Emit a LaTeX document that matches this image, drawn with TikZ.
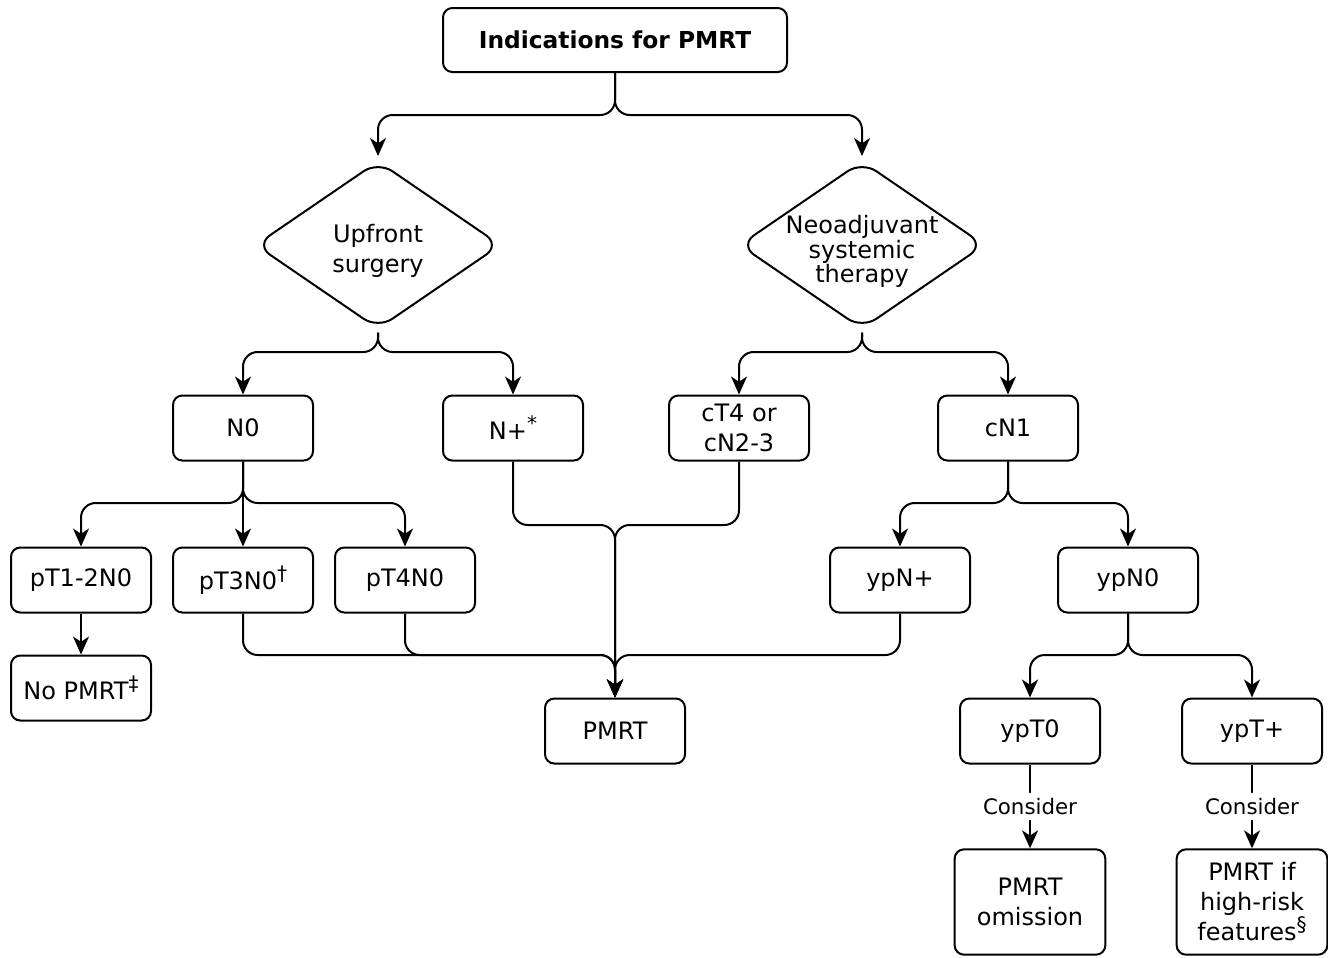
\documentclass[tikz,border=0pt]{standalone}
\usepackage{fontspec}
\setmainfont{DejaVu Sans}
\usetikzlibrary{shapes.geometric,arrows.meta}
\newcommand\supmark[1]{\raisebox{0.38em}{\fontsize{15}{15}\selectfont #1}}
\begin{document}
\begin{tikzpicture}[x=0.75pt,y=-0.75pt,
  every node/.style={font=\fontsize{18}{22.5}\selectfont},
  box/.style={draw, line width=1.5pt, rounded corners=7pt, minimum width=105pt, minimum height=48.75pt, align=center, inner sep=2pt},
  dia/.style={draw, diamond, line width=1.5pt, rounded corners=13pt, minimum width=184pt, minimum height=126pt, inner sep=0pt},
  link/.style={line width=1.5pt, rounded corners=11pt},
  arr/.style={link, -{Stealth[length=13.5pt,width=12pt,inset=4pt]}},
  lab/.style={fill=white, inner sep=4pt, font=\fontsize{16}{19}\selectfont},
]
\useasboundingbox (0,0) rectangle (1328,957);

% nodes
\node[box, minimum width=258pt, minimum height=48pt, font=\fontsize{17.5}{21}\selectfont\bfseries] (top) at (615,40) {Indications for PMRT};
\node[dia, label={[align=center, font=\fontsize{18}{22.5}\selectfont, yshift=-4.5pt]center:Upfront\\surgery}] (dl) at (378,245) {};
\node[dia, label={[align=center, font=\fontsize{18}{18.5}\selectfont, yshift=-5pt]center:Neoadjuvant\\systemic\\therapy}] (dr) at (862,245) {};

\node[box] (n0) at (243,428) {N0};
\node[box] (np) at (513,428) {N+\supmark{*}};
\node[box] (ct) at (739,428) {cT4 or\\cN2-3};
\node[box] (cn1) at (1008,428) {cN1};

\node[box] (p12) at (81,580) {pT1-2N0};
\node[box] (p3) at (243,580) {pT3N0\supmark{†}};
\node[box] (p4) at (405,580) {pT4N0};
\node[box] (ypnp) at (900,580) {ypN+};
\node[box] (ypn0) at (1128,580) {ypN0};

\node[box] (nopmrt) at (81,688) {No PMRT\supmark{‡}};
\node[box] (pmrt) at (615,731) {PMRT};
\node[box] (ypt0) at (1030,731) {ypT0};
\node[box] (yptp) at (1252,731) {ypT+};

\node[box, minimum width=113pt, minimum height=79pt] (omit) at (1030,902) {PMRT\\omission};
\node[box, minimum width=113pt, minimum height=79pt] (hr) at (1252,902) {PMRT if\\high-risk\\features\supmark{§}};

% junctions
\coordinate (j0) at (615,115);
\coordinate (j1) at (378,352);
\coordinate (j2) at (862,352);
\coordinate (j3) at (243,503);
\coordinate (j4) at (1008,503);
\coordinate (jA) at (615,525);
\coordinate (jB) at (615,655);
\coordinate (j5) at (1128,655);

% connectors
\draw[arr] (top.south) -- (j0) -| ([yshift=3pt]dl.north);
\draw[arr] (top.south) -- (j0) -| ([yshift=3pt]dr.north);
\draw[arr] ([yshift=-2pt]dl.south) -- (j1) -| (n0.north);
\draw[arr] ([yshift=-2pt]dl.south) -- (j1) -| (np.north);
\draw[arr] ([yshift=-2pt]dr.south) -- (j2) -| (ct.north);
\draw[arr] ([yshift=-2pt]dr.south) -- (j2) -| (cn1.north);
\draw[arr] (n0.south) -- (j3) -| (p12.north);
\draw[arr] (n0.south) -- (p3.north);
\draw[arr] (n0.south) -- (j3) -| (p4.north);
\draw[arr] (cn1.south) -- (j4) -| (ypnp.north);
\draw[arr] (cn1.south) -- (j4) -| (ypn0.north);
\draw[arr] (p12.south) -- (nopmrt.north);
\draw[arr] (np.south) |- (jA) -- (pmrt.north);
\draw[arr] (ct.south) |- (jA) -- (pmrt.north);
\draw[arr] (p3.south) |- (jB) -- (pmrt.north);
\draw[arr] (p4.south) |- (jB) -- (pmrt.north);
\draw[arr] (ypnp.south) |- (jB) -- (pmrt.north);
\draw[arr] (ypn0.south) -- (j5) -| (ypt0.north);
\draw[arr] (ypn0.south) -- (j5) -| (yptp.north);
\draw[arr] (ypt0.south) -- node[lab] {Consider} (omit.north);
\draw[arr] (yptp.south) -- node[lab] {Consider} (hr.north);
\end{tikzpicture}
\end{document}
